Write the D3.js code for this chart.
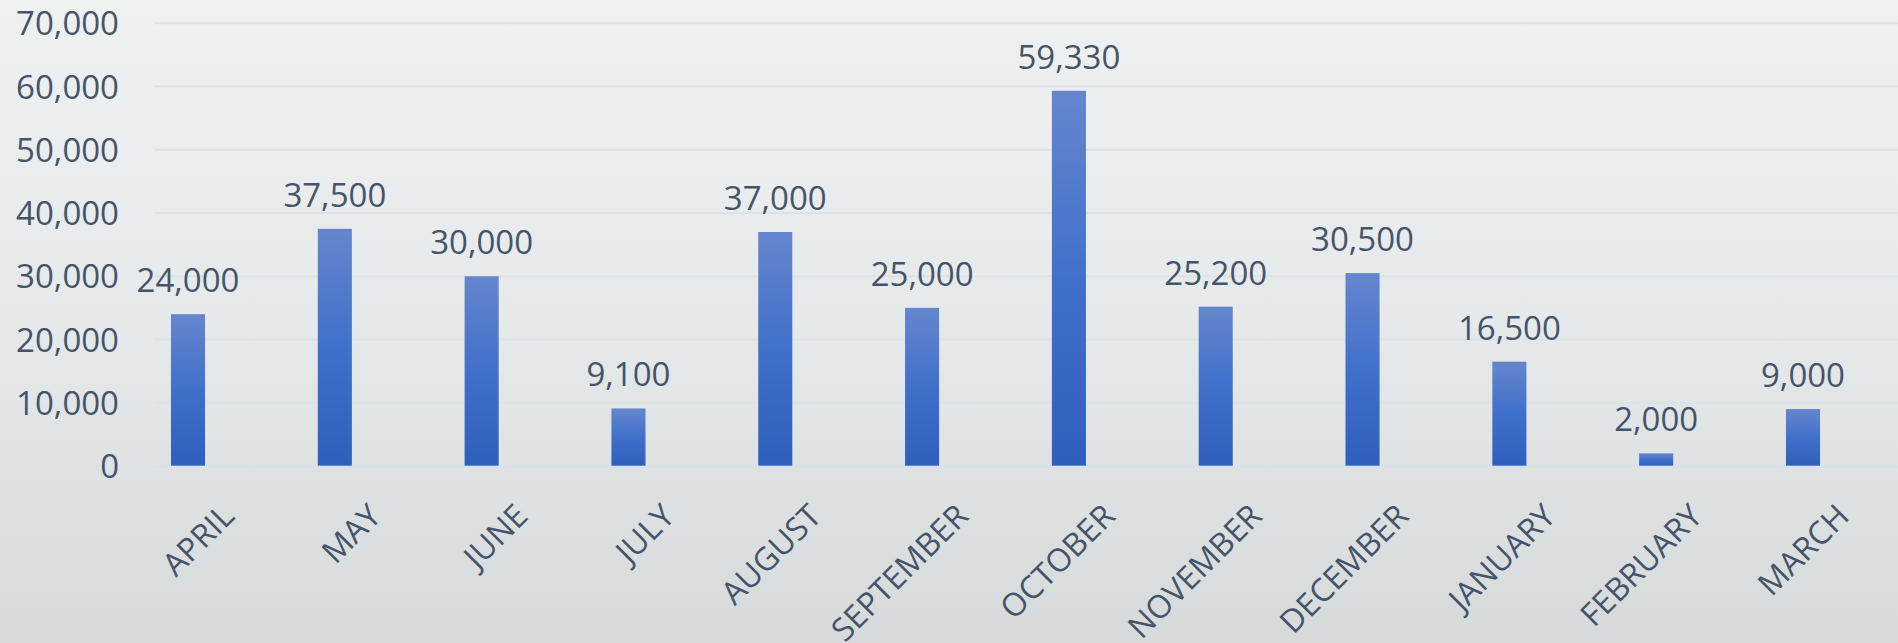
<!DOCTYPE html>
<html>
<head>
<meta charset="utf-8">
<script src="https://cdn.jsdelivr.net/npm/d3@7"></script>
<style>
  html, body { margin: 0; padding: 0; overflow: hidden; }
  svg { display: block; }
  text { font-family: "Open Sans", "Noto Sans", sans-serif; fill: #44546a; }
</style>
</head>
<body>
<svg id="chart"></svg>
<script>
// data
const months = ["APRIL", "MAY", "JUNE", "JULY", "AUGUST", "SEPTEMBER",
                "OCTOBER", "NOVEMBER", "DECEMBER", "JANUARY", "FEBRUARY", "MARCH"];
const amounts = [24000, 37500, 30000, 9100, 37000, 25000,
                 59330, 25200, 30500, 16500, 2000, 9000];
const yTicks = [0, 10000, 20000, 30000, 40000, 50000, 60000, 70000];

const width = 1898, height = 643;
const gridLeft = 155;

let svg = d3.select("#chart")
    .attr("width", width)
    .attr("height", height);

let defs = svg.append("defs");

let bg = defs.append("linearGradient")
    .attr("id", "bg")
    .attr("x1", 0).attr("y1", 0).attr("x2", 0).attr("y2", 1);
bg.append("stop").attr("offset", "0").attr("stop-color", "#eff1f1");
bg.append("stop").attr("offset", "0.5").attr("stop-color", "#e6e9ea");
bg.append("stop").attr("offset", "1").attr("stop-color", "#d6dadb");

let barFill = defs.append("linearGradient")
    .attr("id", "barFill")
    .attr("x1", 0).attr("y1", 0).attr("x2", 0).attr("y2", 1);
barFill.append("stop").attr("offset", "0").attr("stop-color", "#6586cd");
barFill.append("stop").attr("offset", "0.5").attr("stop-color", "#4170cb");
barFill.append("stop").attr("offset", "1").attr("stop-color", "#2f5fbc");

svg.append("rect")
    .attr("width", width)
    .attr("height", height)
    .attr("fill", "url(#bg)");

let x = d3.scaleBand()
    .domain(months)
    .range([114.6, 1876.4])
    .paddingInner(0.768)
    .paddingOuter(0.384);

let y = d3.scaleLinear()
    .domain([0, 70000])
    .range([466, 23.3]);

// gridlines
svg.append("g")
    .selectAll("line")
    .data(yTicks)
    .join("line")
    .attr("x1", gridLeft)
    .attr("x2", width)
    .attr("y1", d => y(d))
    .attr("y2", d => y(d))
    .attr("stroke", "#dde2e7")
    .attr("stroke-width", 2);

// y tick labels
svg.append("g")
    .selectAll("text")
    .data(yTicks)
    .join("text")
    .attr("x", 119)
    .attr("y", d => y(d) + 12)
    .attr("text-anchor", "end")
    .attr("font-size", 33)
    .text(d => d3.format(",")(d));

// bars
svg.append("g")
    .selectAll("rect")
    .data(amounts)
    .join("rect")
    .attr("x", (d, i) => x(months[i]))
    .attr("width", x.bandwidth())
    .attr("y", d => y(d))
    .attr("height", d => y(0) - y(d))
    .attr("fill", "url(#barFill)");

// axis line, drawn over the bars' feet
svg.append("line")
    .attr("x1", gridLeft)
    .attr("x2", width)
    .attr("y1", y(0) + 0.5)
    .attr("y2", y(0) + 0.5)
    .attr("stroke", "#d6dff0")
    .attr("stroke-opacity", 0.7)
    .attr("stroke-width", 2);

// value labels
svg.append("g")
    .selectAll("text")
    .data(amounts)
    .join("text")
    .attr("x", (d, i) => x(months[i]) + x.bandwidth() / 2)
    .attr("y", d => y(d) - 22)
    .attr("text-anchor", "middle")
    .attr("font-size", 33)
    .text(d => d3.format(",")(d));

// month labels, rotated
svg.append("g")
    .selectAll("text")
    .data(months)
    .join("text")
    .attr("text-anchor", "end")
    .attr("font-size", 32)
    .attr("transform", d => {
        let ax = x(d) + x.bandwidth() / 2 + 48;
        let ay = y(0) + 52;
        return "translate(" + ax + "," + ay + ") rotate(-45)";
    })
    .text(d => d);
</script>
</body>
</html>
